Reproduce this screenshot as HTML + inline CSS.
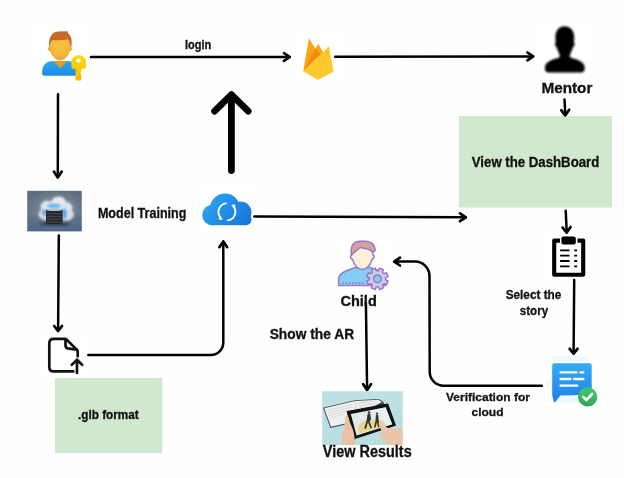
<!DOCTYPE html>
<html><head><meta charset="utf-8">
<style>
html,body{margin:0;padding:0;background:#fefefe;width:624px;height:478px;overflow:hidden}
svg{position:absolute;left:0;top:0;display:block;will-change:transform}
text{font-family:"Liberation Sans",sans-serif;font-weight:bold;fill:#111;stroke:#111;stroke-width:0.3px}
.ln{fill:none;stroke:#000;stroke-width:2.5;stroke-linecap:round;stroke-linejoin:round}
.ah{fill:none;stroke:#000;stroke-width:2.7;stroke-linecap:round;stroke-linejoin:round}
</style></head><body>
<svg width="624" height="478" viewBox="0 0 624 478">
<defs>
  <linearGradient id="gBlue" gradientUnits="userSpaceOnUse" x1="205" y1="192" x2="248" y2="228">
    <stop offset="0" stop-color="#30a6f4"/><stop offset="1" stop-color="#1574d8"/>
  </linearGradient>
  <linearGradient id="gMsg" x1="0" y1="0" x2="0" y2="1">
    <stop offset="0" stop-color="#33acf6"/><stop offset="1" stop-color="#2080e8"/>
  </linearGradient>
  <radialGradient id="gFace" cx="0.5" cy="0.45" r="0.6">
    <stop offset="0" stop-color="#f8c646"/><stop offset="0.7" stop-color="#f2b43a"/><stop offset="1" stop-color="#e49c2a"/>
  </radialGradient>
  <linearGradient id="gShirt" x1="0" y1="0" x2="0" y2="1">
    <stop offset="0" stop-color="#2aa6ee"/><stop offset="1" stop-color="#1b8de6"/>
  </linearGradient>
  <linearGradient id="gMT" x1="0" y1="0" x2="0" y2="1">
    <stop offset="0" stop-color="#5f6d7e"/><stop offset="0.55" stop-color="#6a7888"/><stop offset="0.75" stop-color="#5a6e88"/><stop offset="1" stop-color="#4e6888"/>
  </linearGradient>
  <linearGradient id="gKey" x1="0" y1="0" x2="0" y2="1">
    <stop offset="0" stop-color="#ffdc10"/><stop offset="1" stop-color="#f4b400"/>
  </linearGradient>
  <linearGradient id="gCheck" x1="0" y1="0" x2="0" y2="1">
    <stop offset="0" stop-color="#46c66e"/><stop offset="1" stop-color="#2bab58"/>
  </linearGradient>
  <filter id="blur06"><feGaussianBlur stdDeviation="0.6"/></filter>
  <filter id="blur08" x="-20%" y="-20%" width="140%" height="140%"><feGaussianBlur stdDeviation="0.8"/></filter>
  <filter id="blur05"><feGaussianBlur stdDeviation="0.5"/></filter>
  <filter id="blur04"><feGaussianBlur stdDeviation="0.35"/></filter>
  <filter id="blur3" x="-50%" y="-50%" width="200%" height="200%"><feGaussianBlur stdDeviation="3"/></filter>
  <filter id="blur1"><feGaussianBlur stdDeviation="1.2"/></filter>
</defs>

<!-- white icon patches -->
<rect x="32" y="24" width="57" height="58" fill="#fff"/>
<rect x="296" y="35" width="46" height="47" fill="#fff"/>
<rect x="540" y="22" width="50" height="56" fill="#fff"/>
<rect x="201" y="184.5" width="51" height="49.5" fill="#fff"/>
<rect x="40" y="333" width="48" height="43" fill="#fff"/>
<rect x="333" y="237" width="55" height="53" fill="#fff"/>
<rect x="546" y="234" width="44" height="46" fill="#fff"/>
<rect x="546" y="356" width="52" height="52" fill="#fff"/>

<!-- green boxes -->
<rect x="459" y="116" width="153" height="91.5" fill="#d0e8cf"/>
<rect x="55" y="378" width="107.3" height="75" fill="#d0e8cf"/>

<!-- connectors -->
<path class="ln" d="M91 57 L289.6 57"/>
<path class="ah" d="M284 53.1 L289.8 57 L284 60.9"/>

<path class="ln" d="M335.2 56.7 L533 56.4"/>
<path class="ah" d="M527.4 52.5 L533.2 56.4 L527.4 60.3"/>

<path class="ln" d="M58 94.2 L57.8 177"/>
<path class="ah" d="M53.9 171.6 L57.8 177.4 L61.7 171.6"/>

<path class="ln" d="M564.5 99.5 L565.3 114.5"/>
<path class="ah" d="M561.2 110.2 L565.3 115.3 L569.2 109.8"/>

<path class="ln" d="M58.8 235.6 L58.1 330.4"/>
<path class="ah" d="M54.2 326 L58.1 331 L62 326"/>

<path class="ln" d="M88.3 355 L210.8 355 A12.5 12.5 0 0 0 223.3 342.5 L223.3 242"/>
<path class="ah" d="M219.4 247.2 L223.3 241.4 L227.2 247.2"/>

<path d="M231.4 170.6 L231.4 95 M214.6 111.2 L231.4 94.6 L248.2 111.2" fill="none" stroke="#000" stroke-width="6.8" stroke-linecap="round" stroke-linejoin="round"/>

<path class="ln" d="M254.4 216.6 L465.6 217.3"/>
<path class="ah" d="M460 213.4 L465.8 217.3 L460 221.2"/>

<path class="ln" d="M565.7 210.8 L566.7 232"/>
<path class="ah" d="M562.6 227.6 L566.7 232.6 L570.6 227"/>

<path class="ln" d="M574.2 280 L573.6 353"/>
<path class="ah" d="M569.7 348.8 L573.6 353.6 L577.5 348.8"/>

<path class="ln" d="M541.9 385.8 L443.7 385.8 A14 14 0 0 1 429.7 371.8 L429.5 276.1 A14.5 14.5 0 0 0 415 261.6 L394.6 261.6"/>
<path class="ah" d="M400 257.7 L394.2 261.6 L400 265.5"/>

<path class="ln" d="M365.9 302.5 L367.1 389.4"/>
<path class="ah" d="M363.2 384.2 L367.1 390 L371 384.2"/>

<!-- user key icon -->
<g>
  <path d="M42.1 72 C42.1 66 46 61.1 53.5 61.1 L67 61.1 C74 61.1 78 66 78 72 L78 75.8 L44.5 75.8 Q42.1 75.8 42.1 73.5 Z" fill="url(#gShirt)"/>
  <path d="M53.2 61.1 L67.3 61.1 L60.3 68.4 Z" fill="#e39a26"/>
  <path d="M60 34 C66.5 34 70.2 38.5 70.2 45 L70.2 46.5 C71.5 46.5 72.2 47.5 72 49 C71.8 50.5 70.8 51.5 69.6 51.5 C68.8 55.5 64.5 60.2 60 60.2 C55.5 60.2 51.2 55.5 50.4 51.5 C49.2 51.5 48.2 50.5 48 49 C47.8 47.5 48.5 46.5 49.8 46.5 L49.8 45 C49.8 38.5 53.5 34 60 34 Z" fill="url(#gFace)"/>
  <path d="M49.2 46.5 C48.5 38 51.5 31.8 58 31.5 L67.5 31.3 C67.8 32 68 32.5 68 33.2 C71.5 35.5 72.2 40 71.4 46.5 L70.2 46.5 C70 42 69.5 40.5 67.5 39.3 C63 40.5 56 40.5 52.5 40 C50.5 41.5 50 43 49.8 46.5 Z" fill="#c56a26"/>
  <path d="M71.4 62 C71.4 58 74.5 55.3 78.7 55.3 C82.9 55.3 86 58 86 62 L86 67 Q86 68.7 84.3 68.7 L81.3 68.7 L81.3 72 L80 73.2 L81.3 74.5 L81.3 79.5 Q81.3 80.5 80.3 80.5 L76.5 80.5 Q75.5 80.5 75.5 79.5 L75.5 68.7 L73.1 68.7 Q71.4 68.7 71.4 67 Z" fill="url(#gKey)"/>
  <circle cx="78.5" cy="60.6" r="2.2" fill="#fff"/>
</g>

<!-- firebase -->
<g>
  <path d="M303.2 71.2 L309 38.2 L315.3 48.7 L318.4 43.9 L323.2 52.5 L320.5 54.4 Z" fill="#ffa611"/>
  <path d="M303.2 71.2 L315.3 48.7 L320.6 54.4 Z" fill="#f5890e"/>
  <path d="M303.2 71.2 L328.9 46.6 L333.6 71.4 L317.9 80.1 Z" fill="#ffc92c"/>
</g>

<!-- mentor silhouette -->
<path filter="url(#blur08)" fill="#000" d="M563.5 26.2 C566 26 568.5 26.8 570 28 C572.8 29.8 574.2 33 574.2 37.5 L574 42.2 C575 43.5 574.6 46 573 47.2 C571.8 51 570.3 53.5 569.8 55.6 L570.3 57.4 C576.5 59 583.8 61.5 584.6 66.5 L584.6 69 C584.6 71.5 583 72.4 580.5 72.5 L549 72.5 C546.5 72.4 545 71.5 545 69 L545 66.5 C545.8 61.5 553 59 559.3 57.4 L559.8 55.6 C559.3 53.5 557.8 51 556.6 47.2 C555 46 554.6 43.5 555.6 42.2 L555.4 37.5 C555.4 31.5 558 27 563.5 26.2 Z"/>

<!-- cloud sync -->
<g fill="url(#gBlue)">
  <circle cx="225" cy="208.8" r="15.2"/>
  <circle cx="212.5" cy="215" r="10.3"/>
  <circle cx="240.5" cy="212.5" r="11"/>
  <rect x="212.5" y="210" width="28" height="15.2"/>
  <rect x="240" y="212.5" width="6" height="12.7"/>
  <circle cx="246" cy="219.7" r="5.5"/>
</g>
<g fill="none" stroke="#fff" stroke-width="1.8" stroke-linecap="round" stroke-linejoin="round">
  <path d="M225.9 203.4 A8.6 8.6 0 0 0 220.6 217.6"/>
  <path d="M219.8 216.3 L219.8 218.9 L222.4 218.9" stroke-linecap="butt"/>
  <path d="M227.7 220.4 A8.6 8.6 0 0 0 233.4 206.4"/>
  <path d="M234.4 207.8 L234.4 205.5 L231.8 205.6" stroke-linecap="butt"/>
</g>

<!-- model training image -->
<g>
  <rect x="27.2" y="190.8" width="54.6" height="40.6" fill="url(#gMT)"/>
  <ellipse cx="56" cy="207" rx="22" ry="14" fill="#8a96a4" opacity="0.4" filter="url(#blur3)"/>
  <ellipse cx="55" cy="224" rx="15" ry="1.8" fill="#1e2a3a" opacity="0.7" filter="url(#blur1)"/>
  <g filter="url(#blur08)">
    <circle cx="58.5" cy="205" r="8.5" fill="#e6eaf0"/>
    <circle cx="47" cy="207" r="6.5" fill="#dfe4ea"/>
    <circle cx="66.5" cy="208" r="6" fill="#dde2e8"/>
    <circle cx="43.5" cy="214.5" r="5" fill="#d8dee6"/>
    <circle cx="69.5" cy="214.5" r="4.5" fill="#d4dae2"/>
    <rect x="42" y="210" width="30" height="10.5" rx="4" fill="#d6dce4"/>
    <ellipse cx="54" cy="206" rx="7" ry="2.8" fill="#58b6ee" opacity="0.9"/>
    <ellipse cx="44.5" cy="212.5" rx="2.6" ry="3.6" fill="#4aa6e8" opacity="0.85"/>
    <ellipse cx="64.5" cy="213.5" rx="2.4" ry="5.5" fill="#3c9ef0" opacity="0.85"/>
  </g>
  <g filter="url(#blur05)">
    <rect x="46" y="209.5" width="16.7" height="14.5" rx="1.2" fill="#25282d"/>
    <ellipse cx="54.3" cy="209.8" rx="8.3" ry="1.3" fill="#b8bec6"/>
    <g stroke="#5c6068" stroke-width="0.6">
      <path d="M46.5 213.6 H62.2 M46.5 216.4 H62.2 M46.5 219.2 H62.2 M46.5 222 H62.2"/>
    </g>
  </g>
</g>

<!-- file upload icon -->
<g fill="none" stroke="#111" stroke-width="2.7" stroke-linecap="round" stroke-linejoin="round">
  <path d="M73.3 371.4 L53.8 371.4 Q49.3 371.4 49.3 366.9 L49.3 343.4 Q49.3 338.9 53.8 338.9 L64.5 338.9 Q65.8 338.9 67 340 L76.7 349.6 Q77.7 350.6 77.7 352 L77.7 356.3"/>
  <path d="M65.5 339.4 L65.5 345.3 Q65.5 348.6 68.8 348.6 L76.8 349.6"/>
  <path d="M77 373 L77 360 M71.8 364.9 L77 359.7 L82.2 364.9"/>
</g>

<!-- clipboard -->
<g>
  <path d="M560 240.6 L554.2 240.6 L554.2 274.8 L583.2 274.8 L583.2 240.6 L577.5 240.6" fill="none" stroke="#000" stroke-width="4.1" stroke-linejoin="round"/>
  <rect x="561.4" y="236.6" width="14.4" height="7.8" rx="2" fill="#000"/>
  <g stroke="#000" stroke-width="1.8">
    <path d="M560.1 250.4 H569.5 M574.2 250.4 H577.1 M560.1 255.7 H569.5 M574.2 255.7 H577.1 M560.1 261 H569.5 M574.2 261 H577.1 M560.1 266.3 H569.5 M574.2 266.3 H577.1"/>
  </g>
</g>

<!-- message + check icon -->
<g>
  <rect x="552" y="356" width="36" height="5.5" rx="2.5" fill="#eef8fd" filter="url(#blur05)"/>
  <rect x="556" y="396" width="22" height="7" rx="3" fill="#eef8fd" filter="url(#blur05)"/>
  <ellipse cx="548.5" cy="384" rx="1.5" ry="5" fill="#f0f8fd"/>
  <path d="M554.5 363.2 L589.5 363.2 Q591.7 363.2 591.7 365.4 L591.7 392.7 Q591.7 394.9 589.5 394.9 L560.4 395.6 L555.3 402 Q554.3 403 553.7 401.6 L552.2 395 L552.2 365.4 Q552.2 363.2 554.5 363.2 Z" fill="url(#gMsg)"/>
  <g stroke="#fff" stroke-width="2.4" stroke-linecap="round">
    <path d="M560.6 372.4 H576.5 M580.3 372.4 H583.3 M560.6 379 H570.4 M574.2 379 H583.3 M560.6 385.6 H577.2"/>
  </g>
  <circle cx="587.6" cy="396.9" r="9.6" fill="url(#gCheck)"/>
  <path d="M583.2 396.9 L586.3 400 L592.2 394" fill="none" stroke="#fff" stroke-width="2.6" stroke-linecap="round" stroke-linejoin="round"/>
</g>

<!-- child icon -->
<g stroke="#9a78c4" stroke-width="1.5" stroke-linejoin="round">
  <path d="M338.6 285.6 L338.6 279.5 C338.6 274.5 342 272.5 346 271 L354.6 267.6 L370.9 267.6 L379 271 C383.5 273 385.5 276 385.5 281 L385.5 285.6 Z" fill="#84cdf4"/>
  <path d="M362.3 243.3 C368.5 243.3 372.6 247.5 372.6 253.5 L372.6 254.5 C373.8 254.8 374.2 256 374 257.2 C373.8 258.4 373 259.2 372 259.4 C370.8 264.8 366.5 269.6 362.3 269.6 C358.1 269.6 353.8 264.8 352.6 259.4 C351.6 259.2 350.8 258.4 350.6 257.2 C350.4 256 350.8 254.8 352 254.5 L352 253.5 C352 247.5 356.1 243.3 362.3 243.3 Z" fill="#fdefdb"/>
  <path d="M351.4 254.3 C350.2 246 353.5 241.5 360 241.3 L366 241.3 C371.5 241.8 375 245 375.2 250.2 L373.2 252.2 C371 250 367 248.8 364 248.3 C362.5 247.8 361 247.2 360 247.8 C358 249.5 355.5 251.5 354.6 252.1 L352 254.5 Z" fill="#d6a39f"/>
  <g transform="translate(377.4 278.8) rotate(22.5)">
    <path d="M7.92 -2.12 L10.70 -2.08 L10.70 2.08 L7.92 2.12 L7.10 4.10 L9.04 6.10 L6.10 9.04 L4.10 7.10 L2.12 7.92 L2.08 10.70 L-2.08 10.70 L-2.12 7.92 L-4.10 7.10 L-6.10 9.04 L-9.04 6.10 L-7.10 4.10 L-7.92 2.12 L-10.70 2.08 L-10.70 -2.08 L-7.92 -2.12 L-7.10 -4.10 L-9.04 -6.10 L-6.10 -9.04 L-4.10 -7.10 L-2.12 -7.92 L-2.08 -10.70 L2.08 -10.70 L2.12 -7.92 L4.10 -7.10 L6.10 -9.04 L9.04 -6.10 L7.10 -4.10 Z" fill="#c9ccee"/>
    <circle r="3.8" fill="#84cdf4"/>
  </g>
</g>
<path d="M342.1 283.1 H364.6" stroke="#9a78c4" stroke-width="1.7" stroke-dasharray="1.6 1.75" fill="none"/>

<!-- view results image -->
<g>
  <rect x="322.2" y="391.4" width="80.5" height="53.6" fill="#b8dee1"/>
  <rect x="322.2" y="391.4" width="80.5" height="20" fill="#c2e3e5" opacity="0.5"/>
  <!-- book -->
  <path d="M323 407.8 L354.9 400.2 L378.6 398.9 L383 401.6 L388 412 L347 424.3 L330.4 428 Z" fill="#3e464e"/>
  <path d="M324.2 408.3 L354.9 401 L378.4 399.8 L382 402 L362 413 L346.7 423.2 L331 426.8 Z" fill="#eff0ee"/>
  <path d="M354.9 401 L357 412" fill="none" stroke="#c6cacb" stroke-width="0.8"/>
  <g stroke="#b8bcbe" stroke-width="0.45">
    <path d="M327 410.6 L352 404.6 M327.8 413 L352.5 407 M328.6 415.4 L350 410.2 M329.4 417.8 L346 413.8 M358 403 L376 401.4 M359 405.5 L378 403.6 M360 408 L372 406.8"/>
  </g>
  <!-- tablet -->
  <path d="M347.3 411.6 L387.6 404 L395.3 425.3 L354 438.8 Z" fill="#121212" stroke="#121212" stroke-width="1.2" stroke-linejoin="round"/>
  <path d="M350.8 414 L385.6 407.2 L392.2 424.2 L356.6 435.6 Z" fill="#e2eaec"/>
  <path d="M371 411 L385.6 407.2 L392.2 424.2 L385 426.5 Z" fill="#edf2f2" opacity="0.7"/>
  <path d="M358 426 C361 420 372 418.5 383 420.5 L386 425.5 L366 431.5 L359 433.5 Z" fill="#e8d68a"/>
  <g fill="#2e333a" filter="url(#blur04)">
    <circle cx="369" cy="412.6" r="1.3"/>
    <path d="M367.6 414 L370.4 414 L371 420 L369.5 421 L372 428 L370.5 428.5 L368 422 L366 428.8 L364.2 428.5 L366.6 420.5 Z"/>
    <circle cx="377" cy="413.6" r="1.2"/>
    <path d="M375.8 415 L378.2 415 L378.8 421 L379.6 427 L378 427.3 L377 422 L375.5 427.5 L374 427.2 L375.6 420.5 Z"/>
  </g>
  <!-- left hand -->
  <path d="M345.6 417.5 C346 415.8 347.6 415.6 348.4 417 L350.5 424 C352 427 353.5 430 354 434 L355.5 445 L341.8 445 C341.8 439 342.6 432 343.8 428 C344.5 425 345 421 345.6 417.5 Z" fill="#e9c2a4"/>
  <path d="M346 428 C348 427 350 428 351 430" stroke="#cf9f82" stroke-width="0.6" fill="none"/>
  <!-- right hand -->
  <path d="M378.4 423.4 C379 422.4 380.4 422.5 381.6 423.5 L388.5 428.5 C392 429 397 428.5 402.6 428.5 L402.6 445 L389 445 L384.5 440.5 C382 439.2 379.5 437.5 378.4 435.8 C378.6 434.8 380 434.4 381.5 434.8 L383.5 434.5 L380.2 428 Z" fill="#ecc5a8"/>
  <path d="M380.5 434 C382.5 433.6 384.5 434 386 435" stroke="#cf9f82" stroke-width="0.5" fill="none"/>
</g>

<!-- texts -->
<text x="184.9" y="48.7" font-size="12.2" textLength="26.3" lengthAdjust="spacingAndGlyphs">login</text>
<text x="541.4" y="92.8" font-size="14.4" textLength="51" lengthAdjust="spacingAndGlyphs">Mentor</text>
<text x="471.8" y="167.2" font-size="14.4" textLength="127.5" lengthAdjust="spacingAndGlyphs">View the DashBoard</text>
<text x="97.9" y="217.5" font-size="14.4" textLength="88.5" lengthAdjust="spacingAndGlyphs">Model Training</text>
<text x="78.1" y="419.4" font-size="12.2" textLength="60.6" lengthAdjust="spacingAndGlyphs">.glb format</text>
<text x="505.7" y="299.2" font-size="12.6" textLength="55.6" lengthAdjust="spacingAndGlyphs">Select the</text>
<text x="519.8" y="315.3" font-size="12.6" textLength="28.3" lengthAdjust="spacingAndGlyphs">story</text>
<text x="446" y="400.6" font-size="11.8" textLength="83.9" lengthAdjust="spacingAndGlyphs">Verification for</text>
<text x="471.5" y="415.8" font-size="11.8" textLength="32" lengthAdjust="spacingAndGlyphs">cloud</text>
<text x="340.4" y="306.2" font-size="14.8" textLength="36.4" lengthAdjust="spacingAndGlyphs">Child</text>
<text x="269.7" y="339.2" font-size="14" textLength="84.4" lengthAdjust="spacingAndGlyphs">Show the AR</text>
<text x="322.8" y="457.4" font-size="15.6" textLength="88.9" lengthAdjust="spacingAndGlyphs">View Results</text>
</svg>
</body></html>
